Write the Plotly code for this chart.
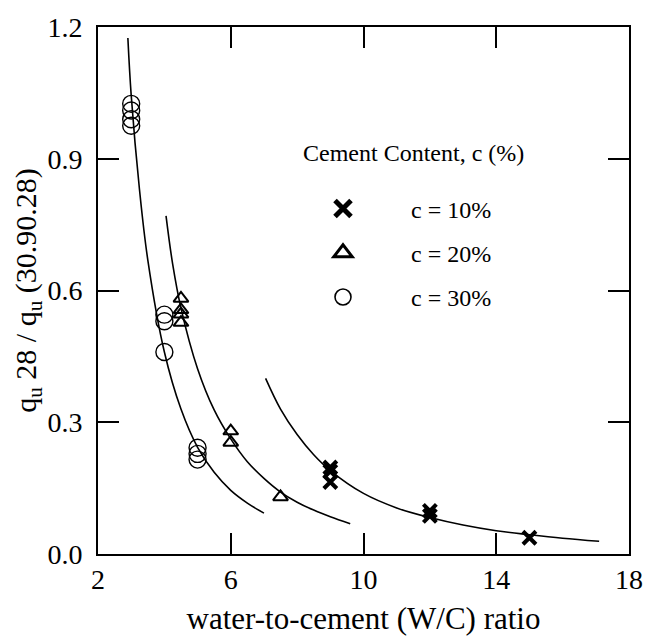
import plotly.graph_objects as go

# ---- data ----
wc_30 = [3, 3, 3, 3, 4, 4, 4, 5, 5, 5]
q_30 = [1.025, 1.01, 0.99, 0.975, 0.545, 0.53, 0.46, 0.242, 0.228, 0.215]

wc_20 = [4.5, 4.5, 4.5, 4.5, 6, 6, 7.5]
q_20 = [0.582, 0.556, 0.546, 0.527, 0.28, 0.254, 0.13]

wc_10 = [9, 9, 9, 12, 12, 15]
q_10 = [0.197, 0.188, 0.164, 0.098, 0.087, 0.037]

# trend curves
fit30_x = [2.9, 3.0, 3.25, 3.5, 4.0, 4.5, 5.0, 5.5, 6.0, 6.5, 7.0]
fit30_y = [1.175, 1.045, 0.83, 0.67, 0.46, 0.33, 0.243, 0.186, 0.145, 0.116, 0.093]

fit20_x = [4.05, 4.25, 4.5, 5.0, 5.5, 6.0, 6.5, 7.0, 7.5, 8.0, 8.5, 9.0, 9.6]
fit20_y = [0.77, 0.66, 0.56, 0.422, 0.328, 0.262, 0.21, 0.172, 0.141, 0.118, 0.1, 0.085, 0.069]

fit10_x = [7.05, 7.5, 8.0, 8.5, 9.0, 10, 11, 12, 13, 14, 15, 16, 17.1]
fit10_y = [0.40, 0.33, 0.272, 0.226, 0.19, 0.138, 0.105, 0.083, 0.066, 0.053, 0.044, 0.036, 0.029]

x_ticks = [2, 6, 10, 14, 18]
y_ticks = [0.0, 0.3, 0.6, 0.9, 1.2]
y_tick_text = ["0.0", "0.3", "0.6", "0.9", "1.2"]

legend_labels = ["c = 10%", "c = 20%", "c = 30%"]

FONT = "Liberation Serif, Times New Roman, serif"
PAD = "\u00a0" * 8

fig = go.Figure()

for fx, fy in [(fit30_x, fit30_y), (fit20_x, fit20_y), (fit10_x, fit10_y)]:
    fig.add_trace(go.Scatter(x=fx, y=fy, mode="lines", line=dict(color="black", width=1.6, shape="spline", smoothing=1.0),
                             showlegend=False, hoverinfo="skip"))

fig.add_trace(go.Scatter(x=wc_30, y=q_30, mode="markers", showlegend=False,
                         marker=dict(symbol="circle-open", size=17, color="black", line=dict(width=1.4, color="black"))))
fig.add_trace(go.Scatter(x=wc_20, y=q_20, mode="markers", showlegend=False,
                         marker=dict(symbol="triangle-up-open", size=13, color="black", line=dict(width=2, color="black"))))
fig.add_trace(go.Scatter(x=wc_10, y=q_10, mode="markers", showlegend=False,
                         marker=dict(symbol="x-thin-open", size=13, color="black", line=dict(width=4, color="black"))))

# legend entries
leg_styles = [
    dict(symbol="x-thin-open", size=16, color="black", line=dict(width=5, color="black")),
    dict(symbol="triangle-up-open", size=16, color="black", line=dict(width=3, color="black")),
    dict(symbol="circle-open", size=16, color="black", line=dict(width=1.6, color="black")),
]
for i, (lab, st) in enumerate(zip(legend_labels, leg_styles)):
    fig.add_trace(go.Scatter(x=[None], y=[None], mode="markers", name=PAD + lab,
                             legendgroup="g%d" % i, marker=st, showlegend=True))

axis_common = dict(
    showline=True, linecolor="black", linewidth=1.6, mirror="ticks",
    ticks="inside", ticklen=21, tickwidth=1.5, tickcolor="black",
    showgrid=False, zeroline=False,
    tickfont=dict(family=FONT, size=28, color="black"),
)

fig.update_xaxes(range=[2, 18], tickvals=x_ticks, ticklabelstandoff=0, automargin=False,
                 title=dict(text="water-to-cement (W/C) ratio", font=dict(family=FONT, size=31, color="black")),
                 **axis_common)
fig.update_yaxes(range=[0, 1.2], tickvals=y_ticks, ticktext=y_tick_text, ticklabelstandoff=8, automargin=True,
                 title=dict(text="q<sub>u</sub> 28 / q<sub>u</sub> (30.90.28)", font=dict(family=FONT, size=30, color="black"), standoff=2),
                 **axis_common)

fig.add_annotation(text="Cement Content, c (%)", xref="paper", yref="paper",
                   x=(301 - 98) / 531, y=1 - (149 - 22) / 532, xanchor="left", yanchor="middle",
                   showarrow=False, font=dict(family=FONT, size=24, color="black"))

fig.update_layout(
    width=646, height=636,
    margin=dict(l=98, r=17, t=22, b=82),
    paper_bgcolor="white", plot_bgcolor="white",
    font=dict(family=FONT, color="black"),
    legend=dict(x=(323 - 98) / 531, y=1 - (183 - 22) / 532, xanchor="left", yanchor="top",
                font=dict(family=FONT, size=24, color="black"), bgcolor="rgba(0,0,0,0)",
                tracegroupgap=10, itemsizing="trace"),
)

fig.write_html("out.html")
